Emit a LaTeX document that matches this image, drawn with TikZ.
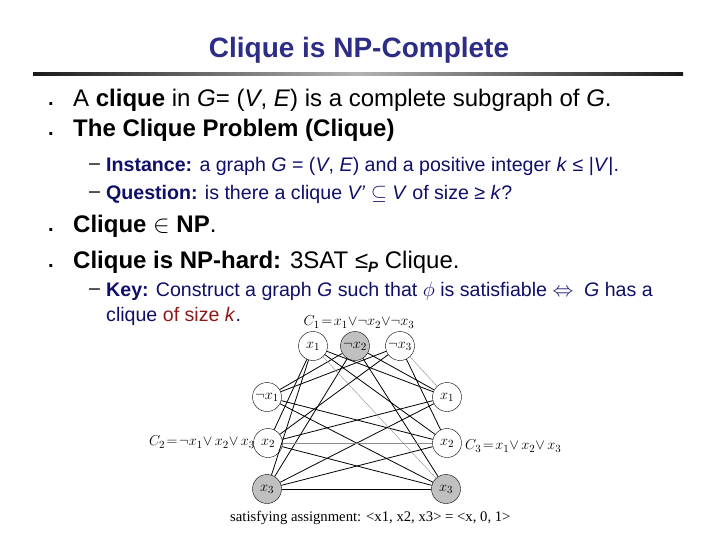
\documentclass[tikz,border=0pt]{standalone}
\usepackage{fontspec}
\setmainfont{Liberation Sans}
\newfontfamily\serifgraph{Liberation Serif}
\usetikzlibrary{positioning}
\definecolor{titleblue}{RGB}{45,45,135}
\definecolor{navytext}{RGB}{15,15,105}
\definecolor{darkred}{RGB}{140,25,25}
\definecolor{litgrey}{RGB}{192,192,192}

\begin{document}
\begin{tikzpicture}[x=1pt,y=-1pt,
 main/.style={anchor=west,font=\fontsize{24}{28}\selectfont,inner sep=0pt},
 sub/.style={anchor=west,font=\fontsize{19.6}{23}\selectfont,text=navytext,inner sep=0pt},
 lit/.style={circle,draw,fill=white,minimum size=29pt,inner sep=0pt,font=\fontsize{15}{17}\selectfont},
 satlit/.style={lit,fill=litgrey},
 clause/.style={font=\fontsize{15}{18}\selectfont,inner sep=0pt},
 edge/.style={line width=0.8pt},
 thinedge/.style={line width=0.4pt,draw=black!45}]
\useasboundingbox (0,0) rectangle (720,540);
% title and rule
\node[font=\bfseries\fontsize{28}{32}\selectfont,text=titleblue] (title) at (359,50) {Clique is NP-Complete};
\shade[left color=black!90,right color=black!30] (33,72.5) rectangle (358,75.5);
\shade[left color=black!30,right color=black!90] (358,72.5) rectangle (683,75.5);
% bullets
\foreach \y in {100,130,226,262}
 \node[main,font=\bfseries\fontsize{20}{24}\selectfont] at (48,\y+4) {.};
\foreach \y in {166,194,291}
 \node[sub,text=black] at (89,\y+1) {--};
\node[main] (def) at (73,100) {A \textbf{clique} in \textit{G}= (\textit{V}, \textit{E}) is a complete subgraph of \textit{G}.};
\node[main] (prob) at (73,130) {\textbf{The Clique Problem (Clique)}};
\node[sub] (inst) at (106,166) {\textbf{Instance:} a graph \textit{G} = (\textit{V}, \textit{E}) and a positive integer \textit{k} ≤ |\textit{V}|.};
\node[sub] (quest) at (106,194) {\textbf{Question:} is there a clique \textit{V'} $\subseteq$ \textit{V} of size ≥ \textit{k}?};
\node[main] (innp) at (73,226) {\textbf{Clique} $\in$ \textbf{NP}.};
\node[main] (hard) at (73,262) {\textbf{Clique is NP-hard:} 3SAT ≤\raisebox{-0.35ex}{\fontsize{15}{17}\selectfont\bfseries\itshape P} Clique.};
\node[sub] (key) at (106,291) {\textbf{Key:} Construct a graph \textit{G} such that $\phi$ is satisfiable $\Leftrightarrow$\ \ \textit{G} has a};
\node[sub] (keyb) at (106,316) {clique \textcolor{darkred}{of size \textit{k}}.};
% literals of the three clauses
\node[lit] (a1) at (313,346) {$x_1$};
\node[satlit] (a2) at (355,346) {$\neg x_2$};
\node[lit] (a3) at (400,346) {$\neg x_3$};
\node[lit] (b1) at (267,397) {$\neg x_1$};
\node[lit] (b2) at (268,443) {$x_2$};
\node[satlit] (b3) at (267,489) {$x_3$};
\node[lit] (c1) at (447,397) {$x_1$};
\node[lit] (c2) at (447,443) {$x_2$};
\node[satlit] (c3) at (446,489) {$x_3$};
% compatible pairs
\foreach \u/\v in {a1/b2,a1/b3,a2/b1,a2/b3,a3/b1,a3/b2,a1/c1,a1/c2,a2/c1,a2/c3,a3/c2,b1/c2,b1/c3,b2/c1,b2/c3,b3/c1,b3/c2,b3/c3}
 \draw[edge] (\u) -- (\v);
\foreach \u/\v in {a1/c3,a3/c1,b2/c2}
 \draw[thinedge] (\u) -- (\v);
\node[clause] (cl1) at (359,322) {$C_1\!=\!x_1{\lor}\neg x_2{\lor}\neg x_3$};
\node[clause,anchor=east] (cl2) at (255,442) {$C_2\!=\!\neg x_1{\lor}\, x_2{\lor}\, x_3$};
\node[clause,anchor=west] (cl3) at (465,446) {$C_3\!=\!x_1{\lor}\, x_2{\lor}\, x_3$};
\node[anchor=west,inner sep=0pt,font=\serifgraph\fontsize{14.7}{17}\selectfont] (assign) at (230,518) {satisfying assignment: <x1, x2, x3> = <x, 0, 1>};
\end{tikzpicture}
\end{document}
